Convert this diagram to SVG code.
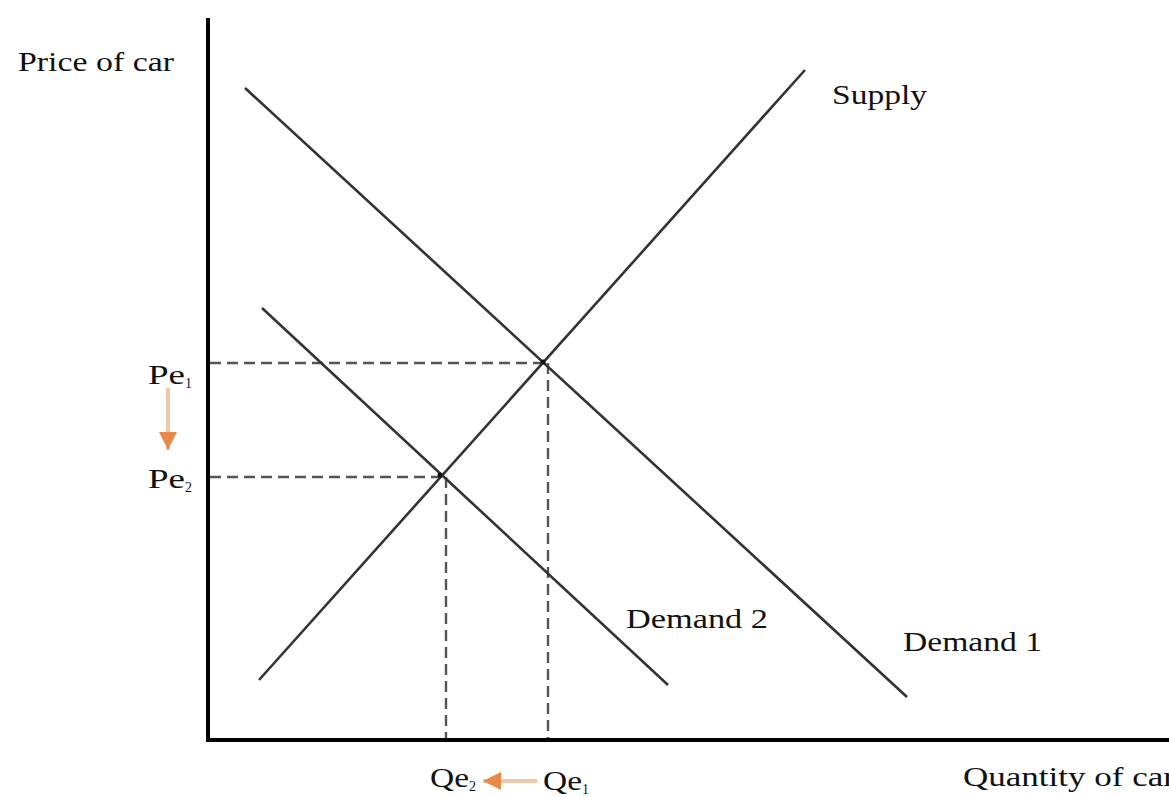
<svg xmlns="http://www.w3.org/2000/svg" width="1169" height="797" viewBox="0 0 1169 797">
<style>
text{font-family:"Liberation Serif","Times New Roman",serif;font-size:28px;fill:#111}
.sub{font-size:14px}
.curve{stroke:#333;stroke-width:2.6;fill:none}
.dash{stroke:#555;stroke-width:2.4;stroke-dasharray:11 6;fill:none}
.axis{stroke:#000;stroke-width:4;fill:none}
.oarr{stroke:#efc8aa;stroke-width:4;fill:none}
</style>
<defs>
<marker id="oh" markerWidth="20" markerHeight="22" refX="18" refY="11" orient="auto" markerUnits="userSpaceOnUse">
<path d="M0,2 L18,11 L0,20 Z" fill="#e8894a"/>
</marker>
</defs>
<rect width="1169" height="797" fill="#fff"/>
<g id="connectors">
<path class="dash" d="M210,363 H543"/>
<path class="dash" d="M548,363 V740"/>
<path class="dash" d="M210,477 H440"/>
<path class="dash" d="M446,477 V740"/>
<path class="oarr" d="M168,388 V450" marker-end="url(#oh)"/>
<path class="oarr" d="M537,781 H483" marker-end="url(#oh)"/>
</g>
<g id="axes">
<path class="axis" d="M208,18 V740 H1169"/>
</g>
<g id="supply"><path class="curve" d="M259,680 L805,70"/><text x="832" y="104" textLength="95" lengthAdjust="spacingAndGlyphs">Supply</text></g>
<g id="demand1"><path class="curve" d="M245,88 L907,697"/><text x="903" y="651" textLength="139" lengthAdjust="spacingAndGlyphs">Demand 1</text></g>
<g id="demand2"><path class="curve" d="M262,308 L668,685"/><text x="626" y="628" textLength="142" lengthAdjust="spacingAndGlyphs">Demand 2</text></g>
<g id="points">
<circle cx="543" cy="362" r="2.5" fill="#111"/>
<circle cx="440" cy="475" r="2.5" fill="#111"/>
</g>
<g id="labels">
<text x="18" y="71" textLength="156" lengthAdjust="spacingAndGlyphs">Price of car</text>
<text x="963" y="786" textLength="212" lengthAdjust="spacingAndGlyphs">Quantity of car</text>
<text x="148" y="384" textLength="37" lengthAdjust="spacingAndGlyphs">Pe</text><text class="sub" x="185" y="388">1</text>
<text x="148" y="488" textLength="37" lengthAdjust="spacingAndGlyphs">Pe</text><text class="sub" x="185" y="492">2</text>
<text x="430" y="787" textLength="39" lengthAdjust="spacingAndGlyphs">Qe</text><text class="sub" x="469" y="791">2</text>
<text x="543" y="790" textLength="39" lengthAdjust="spacingAndGlyphs">Qe</text><text class="sub" x="582" y="794">1</text>
</g>
</svg>
